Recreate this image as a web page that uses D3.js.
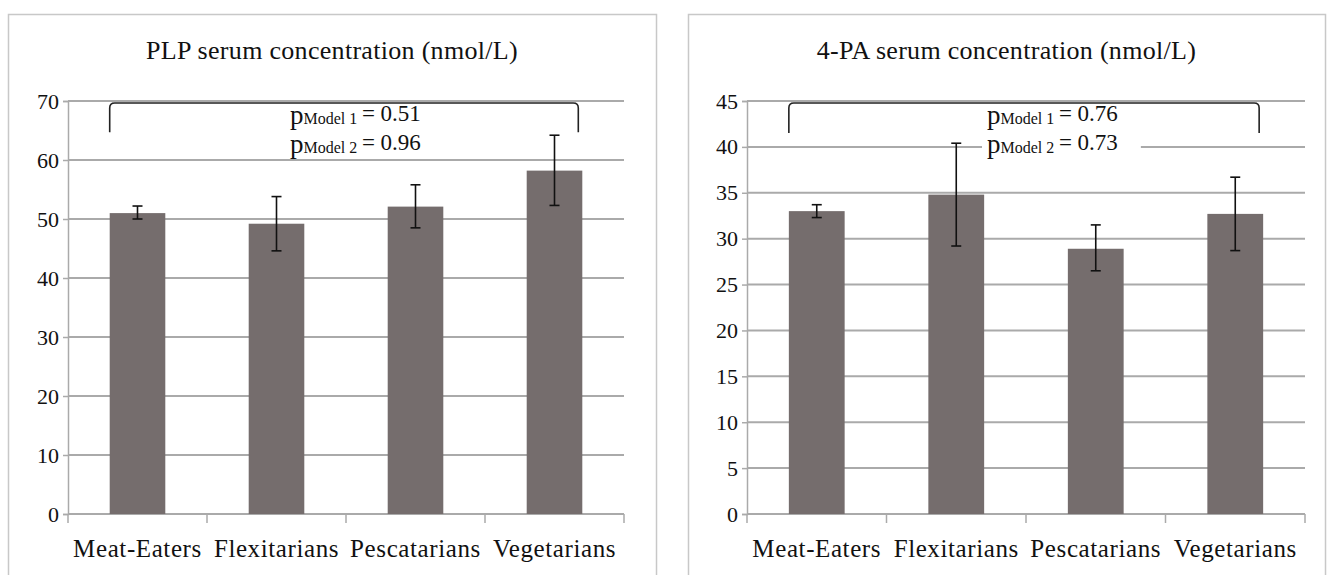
<!DOCTYPE html>
<html>
<head>
<meta charset="utf-8">
<script src="https://cdn.jsdelivr.net/npm/d3@7"></script>
<style>
  body { margin: 0; background: #fff; }
  svg text, svg tspan { font-family: "Liberation Serif", "Times New Roman", serif !important; fill: #111; }
</style>
</head>
<body>
<div id="chart"></div>
<script>
var categories = ["Meat-Eaters", "Flexitarians", "Pescatarians", "Vegetarians"];

// PLP serum concentration (nmol/L)
var plpMean = [51.0, 49.2, 52.1, 58.2];
var plpLow = [50.0, 44.6, 48.5, 52.3];
var plpHigh = [52.2, 53.8, 55.8, 64.2];
var plpTicks = [0, 10, 20, 30, 40, 50, 60, 70];

// 4-PA serum concentration (nmol/L)
var paMean = [33.0, 34.8, 28.9, 32.7];
var paLow = [32.3, 29.2, 26.5, 28.7];
var paHigh = [33.7, 40.4, 31.5, 36.7];
var paTicks = [0, 5, 10, 15, 20, 25, 30, 35, 40, 45];

var pModel1 = ["0.51", "0.76"];
var pModel2 = ["0.96", "0.73"];

var width = 1335,
    height = 575;

var svg = d3.select("#chart")
    .append("svg")
    .attr("width", width)
    .attr("height", height);

var panels = [
  { title: "PLP serum concentration (nmol/L)", mean: plpMean, low: plpLow, high: plpHigh, ticks: plpTicks,
    box: [8, 14, 656], plot: [68, 624], textX: 290, bracketEnd: 64.7, p1: pModel1[0], p2: pModel2[0] },
  { title: "4-PA serum concentration (nmol/L)", mean: paMean, low: paLow, high: paHigh, ticks: paTicks,
    box: [688, 14, 1325], plot: [747, 1305], textX: 987, bracketEnd: 41.5, p1: pModel1[1], p2: pModel2[1] }
];

var plotTop = 101, plotBottom = 514;
var barColor = "#756d6d", gridColor = "#aaaaaa";

panels.forEach(function (p) {
  var g = svg.append("g");

  // panel border
  g.append("rect")
      .attr("x", p.box[0] + 0.5)
      .attr("y", p.box[1] + 0.5)
      .attr("width", p.box[2] - p.box[0])
      .attr("height", height)
      .attr("fill", "#fff")
      .attr("stroke", "#c8c8c8")
      .attr("stroke-width", 1.5);

  g.append("text")
      .attr("x", (p.box[0] + p.box[2]) / 2)
      .attr("y", 59)
      .attr("text-anchor", "middle")
      .style("font-size", "26px")
      .style("letter-spacing", "0.3px")
      .text(p.title);

  var yMax = d3.max(p.ticks);
  var y = d3.scaleLinear().domain([0, yMax]).range([plotBottom, plotTop]);
  var x = d3.scaleBand().domain(categories).range(p.plot);
  var barW = x.bandwidth() * 0.4;

  // gridlines
  g.selectAll(".grid")
      .data(p.ticks.filter(function (t) { return t > 0; }))
      .enter().append("line")
      .attr("x1", p.plot[0]).attr("x2", p.plot[1])
      .attr("y1", function (d) { return y(d); })
      .attr("y2", function (d) { return y(d); })
      .attr("stroke", gridColor)
      .attr("stroke-width", 2);

  // y axis
  var yAxis = g.append("g")
      .attr("transform", "translate(" + p.plot[0] + ",0)")
      .call(d3.axisLeft(y).tickValues(p.ticks).tickSize(5).tickPadding(4));
  yAxis.attr("font-family", null);
  yAxis.select(".domain").attr("stroke", gridColor).attr("stroke-width", 1.5);
  yAxis.selectAll(".tick line").attr("stroke", gridColor).attr("stroke-width", 1.5);
  yAxis.selectAll(".tick text")
      .attr("fill", "#111")
      .style("font-size", "22px");

  // x axis baseline and boundary ticks
  g.append("line")
      .attr("x1", p.plot[0]).attr("x2", p.plot[1])
      .attr("y1", plotBottom).attr("y2", plotBottom)
      .attr("stroke", gridColor).attr("stroke-width", 2);
  var bounds = categories.map(function (c) { return x(c); }).concat([p.plot[1]]);
  g.selectAll(".xt")
      .data(bounds)
      .enter().append("line")
      .attr("x1", function (d) { return d; }).attr("x2", function (d) { return d; })
      .attr("y1", plotBottom).attr("y2", plotBottom + 9)
      .attr("stroke", gridColor).attr("stroke-width", 1.5);

  g.selectAll(".xl")
      .data(categories)
      .enter().append("text")
      .attr("x", function (d) { return x(d) + x.bandwidth() / 2; })
      .attr("y", 557)
      .attr("text-anchor", "middle")
      .style("font-size", "25px")
      .style("letter-spacing", "0.6px")
      .text(function (d) { return d; });

  // bars
  g.selectAll(".bar")
      .data(categories)
      .enter().append("rect")
      .attr("x", function (d) { return x(d) + (x.bandwidth() - barW) / 2; })
      .attr("y", function (d, i) { return y(p.mean[i]); })
      .attr("width", barW)
      .attr("height", function (d, i) { return plotBottom - y(p.mean[i]); })
      .attr("fill", barColor);

  // error bars
  var eb = g.selectAll(".eb")
      .data(categories)
      .enter().append("g")
      .attr("stroke", "#111")
      .attr("stroke-width", 1.6);
  eb.append("line")
      .attr("x1", function (d) { return x(d) + x.bandwidth() / 2; })
      .attr("x2", function (d) { return x(d) + x.bandwidth() / 2; })
      .attr("y1", function (d, i) { return y(p.low[i]); })
      .attr("y2", function (d, i) { return y(p.high[i]); });
  [p.low, p.high].forEach(function (arr) {
    eb.append("line")
        .attr("x1", function (d) { return x(d) + x.bandwidth() / 2 - 5; })
        .attr("x2", function (d) { return x(d) + x.bandwidth() / 2 + 5; })
        .attr("y1", function (d, i) { return y(arr[i]); })
        .attr("y2", function (d, i) { return y(arr[i]); });
  });

  // p-value text with white box
  var box = g.append("rect").attr("fill", "#fff");
  var tg = g.append("g");
  var lines = [["Model 1", p.p1, 124], ["Model 2", p.p2, 153]];
  lines.forEach(function (l) {
    var t = tg.append("text").attr("x", p.textX).attr("y", l[2]);
    t.append("tspan").style("font-size", "27px").text("p");
    t.append("tspan").style("font-size", "16px").text(l[0]);
    t.append("tspan").style("font-size", "23px").attr("dy", -3).text("\u2009= " + l[1]);
  });
  var bb = tg.node().getBBox();
  box.attr("x", bb.x - 5).attr("y", 106)
      .attr("width", bb.width + 28).attr("height", 52);

  // bracket
  var bx0 = x(categories[0]) + (x.bandwidth() - barW) / 2;
  var bx1 = x(categories[3]) + (x.bandwidth() + barW) / 2 - 4;
  var by = y(yMax) + 2, bEnd = y(p.bracketEnd), r = 5;
  g.append("path")
      .attr("d", "M" + bx0 + "," + bEnd + "V" + (by + r) + "Q" + bx0 + "," + by + " " + (bx0 + r) + "," + by +
          "H" + (bx1 - r) + "Q" + bx1 + "," + by + " " + bx1 + "," + (by + r) + "V" + bEnd)
      .attr("fill", "none")
      .attr("stroke", "#222")
      .attr("stroke-width", 1.6);
});
</script>
</body>
</html>
